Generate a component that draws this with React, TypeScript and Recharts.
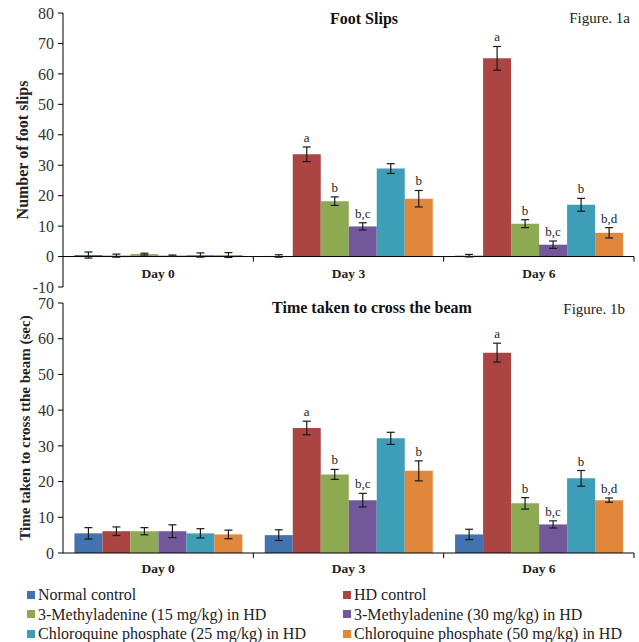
import React from 'react';
import {
  BarChart,
  Bar,
  XAxis,
  YAxis,
  ErrorBar,
  LabelList,
  ReferenceLine,
} from 'recharts';

const SERIF = '"Liberation Serif", "Times New Roman", serif';

const days = ['Day 0', 'Day 3', 'Day 6'];

const groups = [
  'Normal control',
  'HD control',
  '3-Methyladenine (15 mg/kg) in HD',
  '3-Methyladenine (30 mg/kg) in HD',
  'Chloroquine phosphate (25 mg/kg) in HD',
  'Chloroquine phosphate (50 mg/kg) in HD',
];

const COLORS = ['#4272b0', '#aa4543', '#8daa53', '#72589b', '#3e9db7', '#e0873c'];

// Figure 1a - foot slips (mean, sem)
const slipsNormal = [0.5, 0.2, 0.3];
const slipsHD = [0.3, 33.6, 65.1];
const slipsMA15 = [0.8, 18.2, 10.8];
const slipsMA30 = [0.3, 9.9, 3.9];
const slipsCQ25 = [0.5, 28.9, 17.0];
const slipsCQ50 = [0.5, 19.0, 7.8];

const slipsErrNormal = [1.0, 0.4, 0.4];
const slipsErrHD = [0.5, 2.4, 3.9];
const slipsErrMA15 = [0.3, 1.4, 1.3];
const slipsErrMA30 = [0.2, 1.2, 1.2];
const slipsErrCQ25 = [0.7, 1.6, 2.1];
const slipsErrCQ50 = [0.8, 2.7, 1.7];

// Figure 1b - time to cross the beam (sec)
const beamNormal = [5.5, 5.0, 5.2];
const beamHD = [6.1, 35.0, 56.1];
const beamMA15 = [6.1, 22.0, 13.9];
const beamMA30 = [6.1, 14.8, 8.0];
const beamCQ25 = [5.5, 32.1, 20.9];
const beamCQ50 = [5.2, 23.0, 14.8];

const beamErrNormal = [1.6, 1.5, 1.45];
const beamErrHD = [1.2, 1.9, 2.65];
const beamErrMA15 = [1.0, 1.4, 1.6];
const beamErrMA30 = [1.8, 1.9, 1.0];
const beamErrCQ25 = [1.3, 1.7, 2.2];
const beamErrCQ50 = [1.2, 2.8, 0.6];

// significance letters (same in both panels)
const lettersNormal = ['', '', ''];
const lettersHD = ['', 'a', 'a'];
const lettersMA15 = ['', 'b', 'b'];
const lettersMA30 = ['', 'b,c', 'b,c'];
const lettersCQ25 = ['', '', 'b'];
const lettersCQ50 = ['', 'b', 'b,d'];

const slipsTicks = [-10, 0, 10, 20, 30, 40, 50, 60, 70, 80];
const beamTicks = [0, 10, 20, 30, 40, 50, 60, 70];

const letters = [lettersNormal, lettersHD, lettersMA15, lettersMA30, lettersCQ25, lettersCQ50];
const slipsVals = [slipsNormal, slipsHD, slipsMA15, slipsMA30, slipsCQ25, slipsCQ50];
const slipsErrs = [slipsErrNormal, slipsErrHD, slipsErrMA15, slipsErrMA30, slipsErrCQ25, slipsErrCQ50];
const beamVals = [beamNormal, beamHD, beamMA15, beamMA30, beamCQ25, beamCQ50];
const beamErrs = [beamErrNormal, beamErrHD, beamErrMA15, beamErrMA30, beamErrCQ25, beamErrCQ50];

function buildRows(vals: number[][], errs: number[][]) {
  return days.map((day, i) => {
    const row: any = { day };
    vals.forEach((v, k) => {
      row['v' + k] = v[i];
      row['e' + k] = errs[k][i];
    });
    return row;
  });
}

const slipsRows = buildRows(slipsVals, slipsErrs);
const beamRows = buildRows(beamVals, beamErrs);

function makeLetterLabel(lts: string[], errs: number[]) {
  return (props: any) => {
    const vb = props.viewBox || props;
    const { x, y, width, height } = vb;
    const index = props.index;
    const value = Number(props.value);
    const txt = lts[index];
    if (!txt || !value) return null;
    const k = height / value;
    const top = y - errs[index] * k;
    return (
      <text
        x={x + width / 2}
        y={top - 5}
        textAnchor="middle"
        fontFamily={SERIF}
        fontSize={13}
        fill="#222"
      >
        {txt}
      </text>
    );
  };
}

function DayTick(props: any) {
  const { x, y, payload, index, width, visibleTicksCount, lineDy, labelDy } = props;
  const band = width && visibleTicksCount ? width / visibleTicksCount : 190;
  const ly = y + lineDy;
  const last = index === visibleTicksCount - 1;
  return (
    <g>
      {index > 0 && (
        <line x1={x - band / 2} x2={x - band / 2} y1={ly} y2={ly + 5} stroke="#000" />
      )}
      {last && <line x1={x + band / 2} x2={x + band / 2} y1={ly} y2={ly + 5} stroke="#000" />}
      <text
        x={x}
        y={y + labelDy}
        textAnchor="middle"
        fontFamily={SERIF}
        fontWeight="bold"
        fontSize={13.5}
        fill="#222"
      >
        {payload.value}
      </text>
    </g>
  );
}

function yLabel(text: string, dx: number, size: number) {
  return (props: any) => {
    const vb = props.viewBox;
    const cx = vb.x + dx;
    const cy = vb.y + vb.height / 2;
    return (
      <text
        x={cx}
        y={cy}
        transform={`rotate(-90 ${cx} ${cy})`}
        textAnchor="middle"
        dominantBaseline="central"
        fontFamily={SERIF}
        fontWeight="bold"
        fontSize={size}
        fill="#222"
      >
        {text}
      </text>
    );
  };
}

const yTick = { fontSize: 16, fill: '#333', fontFamily: SERIF };

function Bars(vals: number[][], errs: number[][]) {
  return vals.map((_, k) => (
    <Bar key={k} dataKey={'v' + k} fill={COLORS[k]} isAnimationActive={false}>
      <ErrorBar
        dataKey={'e' + k}
        width={4}
        stroke="#1a1a1a"
        strokeWidth={1.2}
        direction="y"
        isAnimationActive={false}
      />
      <LabelList dataKey={'v' + k} content={makeLetterLabel(letters[k], errs[k])} />
    </Bar>
  ));
}

export default function App() {
  return (
    <div
      style={{
        position: 'absolute',
        left: 0,
        top: 0,
        width: 639,
        height: 642,
        background: '#fff',
        overflow: 'hidden',
      }}
    >
      <div style={{ position: 'absolute', left: 0, top: 0 }}>
        <BarChart
          width={639}
          height={300}
          data={slipsRows}
          margin={{ top: 13, right: 5, left: 0, bottom: 0 }}
          barCategoryGap="6%"
          barGap={0}
        >
          <XAxis
            dataKey="day"
            height={13}
            axisLine={false}
            tickLine={false}
            interval={0}
            tick={<DayTick lineDy={-38.4} labelDy={-17} />}
          />
          <YAxis
            width={63}
            domain={[-10, 80]}
            ticks={slipsTicks}
            interval={0}
            tick={yTick}
            tickSize={5}
            tickMargin={4}
            axisLine={{ stroke: '#000' }}
            tickLine={{ stroke: '#000' }}
            label={{ content: yLabel('Number of foot slips', 22, 16) }}
          />
          <ReferenceLine y={0} stroke="#000" />
          {Bars(slipsVals, slipsErrs)}
        </BarChart>
      </div>

      <div style={{ position: 'absolute', left: 0, top: 290 }}>
        <BarChart
          width={639}
          height={290}
          data={beamRows}
          margin={{ top: 13, right: 5, left: 0, bottom: 0 }}
          barCategoryGap="6%"
          barGap={0}
        >
          <XAxis
            dataKey="day"
            height={27}
            axisLine={{ stroke: '#000' }}
            tickLine={false}
            interval={0}
            tick={<DayTick lineDy={-8} labelDy={12} />}
          />
          <YAxis
            width={63}
            domain={[0, 70]}
            ticks={beamTicks}
            interval={0}
            tick={yTick}
            tickSize={5}
            tickMargin={4}
            axisLine={{ stroke: '#000' }}
            tickLine={{ stroke: '#000' }}
            label={{ content: yLabel('Time taken to cross tthe beam (sec)', 25, 15) }}
          />
          {Bars(beamVals, beamErrs)}
        </BarChart>
      </div>

      <svg
        width={639}
        height={642}
        style={{ position: 'absolute', left: 0, top: 0, pointerEvents: 'none' }}
      >
        <text x={364} y={24} textAnchor="middle" fontFamily={SERIF} fontWeight="bold" fontSize={16} fill="#111">
          Foot Slips
        </text>
        <text x={630} y={23} textAnchor="end" fontFamily={SERIF} fontSize={15} fill="#222">
          Figure. 1a
        </text>
        <text x={372} y={313} textAnchor="middle" fontFamily={SERIF} fontWeight="bold" fontSize={16} fill="#111">
          Time taken to cross the beam
        </text>
        <text x={625} y={314} textAnchor="end" fontFamily={SERIF} fontSize={15} fill="#222">
          Figure. 1b
        </text>
      </svg>

      <div
        style={{
          position: 'absolute',
          left: 27,
          top: 585,
          width: 612,
          display: 'grid',
          gridTemplateColumns: '316px 296px',
          fontFamily: SERIF,
          fontSize: 16,
          lineHeight: '19.5px',
          color: '#222',
        }}
      >
        {groups.map((g, k) => (
          <div key={g} style={{ display: 'flex', alignItems: 'center', whiteSpace: 'nowrap' }}>
            <span
              style={{
                display: 'inline-block',
                width: 8,
                height: 8,
                background: COLORS[k],
                marginRight: 3,
              }}
            />
            {g}
          </div>
        ))}
      </div>
    </div>
  );
}
